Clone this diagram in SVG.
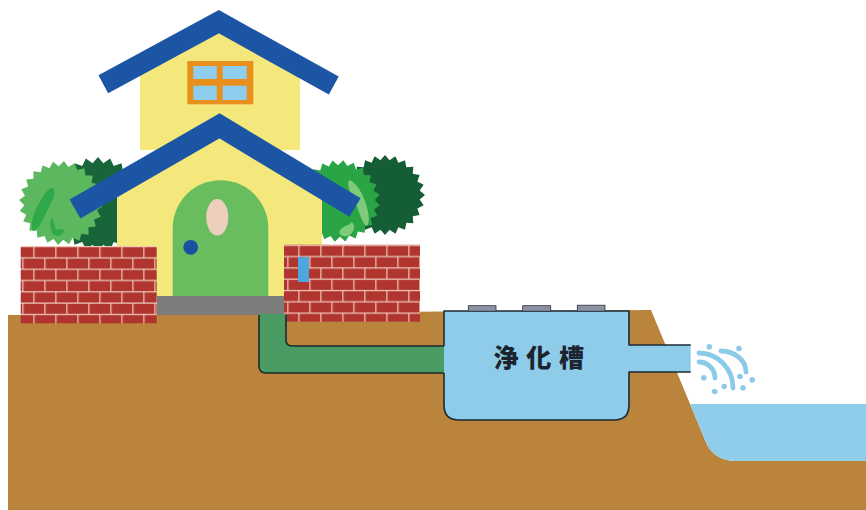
<svg xmlns="http://www.w3.org/2000/svg" xmlns:xlink="http://www.w3.org/1999/xlink" width="866" height="510" viewBox="0 0 866 510">
  <defs>
    <style>
      .roof{fill:none;stroke:#1b55a4;stroke-linejoin:miter;stroke-linecap:butt;stroke-miterlimit:10}
      .wall{fill:#f4e87c}
      .outline{fill:none;stroke:#1c2a33;stroke-width:1.6;stroke-linejoin:round}
      .spray{fill:none;stroke:#8ccaea;stroke-width:4.8;stroke-linecap:round}
      .drop{fill:#8ccaea}
      .lid{fill:#8c92a2;stroke:#2b3440;stroke-width:0.8}
      .label{font-family:"Noto Sans CJK JP","Noto Sans CJK SC",sans-serif;font-weight:900;font-size:25px;fill:#1b2530;letter-spacing:7.8px}
    </style>
    <!-- spiky shrub outline, radius 40, centred on the origin -->
    <polygon id="bush" points="40,0 34.70,4.57 38.64,10.35 32.34,13.39 34.64,20 27.77,21.31 28.28,28.28 21.31,27.77 20,34.64 13.39,32.34 10.35,38.64 4.57,34.70 0,40 -4.57,34.70 -10.35,38.64 -13.39,32.34 -20,34.64 -21.31,27.77 -28.28,28.28 -27.77,21.31 -34.64,20 -32.34,13.39 -38.64,10.35 -34.70,4.57 -40,0 -34.70,-4.57 -38.64,-10.35 -32.34,-13.39 -34.64,-20 -27.77,-21.31 -28.28,-28.28 -21.31,-27.77 -20,-34.64 -13.39,-32.34 -10.35,-38.64 -4.57,-34.70 0,-40 4.57,-34.70 10.35,-38.64 13.39,-32.34 20,-34.64 21.31,-27.77 28.28,-28.28 27.77,-21.31 34.64,-20 32.34,-13.39 38.64,-10.35 34.70,-4.57"/>
    <!-- running-bond brickwork -->
    <pattern id="brickL" patternUnits="userSpaceOnUse" x="11.3" y="246" width="22" height="22.6">
      <rect width="22" height="22.6" fill="#b0352f"/>
      <path d="M0,0.6H22M0,11.9H22M0.6,0V11.3M11.6,11.3V22.6" stroke="#efc9b8" stroke-width="1.2"/>
    </pattern>
    <pattern id="brickR" xlink:href="#brickL" x="12.3" y="244.7"/>
  </defs>

  <!-- soil and river -->
  <g id="ground">
    <path d="M8,315 L651,310 L705,440 Q712,460 735,461 L866,461 L866,510 L8,510 Z" fill="#ba843d"/>
  </g>
  <g id="river">
    <path d="M690,404 L866,404 L866,461 L735,461 Q712,460 705,440 Z" fill="#8fcdeb"/>
  </g>

  <!-- shrubs behind the house -->
  <g id="bushes-left">
    <use href="#bush" transform="translate(98,204) scale(1.175)" fill="#176538"/>
    <use href="#bush" transform="translate(61,203) scale(1.05) rotate(4)" fill="#5cb85f"/>
    <path d="M53,188 C58,192 50,205 45,215 C41,224 38,230 33,231 C30,226 33,214 38,205 C43,196 48,187 53,188 Z" fill="#2ea84a"/>
    <path d="M52,218 C55,222 54,228 57,230 C60,229 63,228 64,231 C63,235 58,237 54,235 C50,232 49,222 52,218 Z" fill="#2ea84a"/>
  </g>
  <g id="bushes-right">
    <use href="#bush" transform="translate(385,195)" fill="#155e35"/>
    <use href="#bush" transform="translate(339,201) scale(1.025) rotate(6)" fill="#2aa546"/>
    <path d="M349,180 C356,182 362,192 366,204 C369,214 370,222 367,226 C362,224 360,214 356,204 C352,195 346,187 349,180 Z" fill="#7fcb7c"/>
    <path d="M352,222 C356,226 354,234 347,236 C342,237 338,234 340,230 C343,226 348,226 352,222 Z" fill="#7fcb7c"/>
  </g>

  <!-- house -->
  <g id="house">
    <path class="wall" d="M140,150 V62 L218.8,22 L300,62 V150 Z"/>
    <rect x="187.3" y="61" width="66" height="43.3" fill="#e88f1d"/>
    <g fill="#8ecdee">
      <rect x="193.3" y="66" width="23.4" height="13"/>
      <rect x="222.7" y="66" width="24" height="13"/>
      <rect x="193.3" y="85.7" width="23.4" height="14.3"/>
      <rect x="222.7" y="85.7" width="24" height="14.3"/>
    </g>
    <polyline class="roof" stroke-width="20.4" points="103.3,84.2 218.8,21.7 333.8,85.5"/>
    <path class="wall" d="M117,297 V190 L219.5,128 L322,190 V297 Z"/>
    <polyline class="roof" stroke-width="21.7" points="75,209 219.5,125.8 355,207.5"/>
    <path d="M172.7,297 V228 A47.8,47.8 0 0 1 268.3,228 V297 Z" fill="#6abd5e"/>
    <ellipse cx="217.3" cy="217.3" rx="11" ry="18.3" fill="#ecd0bd"/>
    <circle cx="190.7" cy="247.3" r="7.4" fill="#1c4fa0"/>
    <rect x="157" y="296" width="127" height="19" fill="#7d7d7b"/>
  </g>

  <!-- garden walls -->
  <g id="wall-left">
    <rect x="20.7" y="246" width="136" height="77.3" fill="url(#brickL)"/>
  </g>
  <g id="wall-right">
    <rect x="284" y="244.7" width="136" height="77" fill="url(#brickR)"/>
    <rect x="298" y="257" width="11" height="25" fill="#4da6de"/>
  </g>

  <!-- drain pipe from the house -->
  <g id="connectors">
    <path d="M259,314 V366 Q259,373 266,373 H445 V346 H292 Q286,346 286,340 V314 Z" fill="#4b9b64"/>
    <path class="outline" d="M259,315 V366 Q259,373 266,373 H444 M444,346 H292 Q286,346 286,340 V315"/>
  </g>

  <!-- septic tank -->
  <g id="tank">
    <path d="M444,311 H629 V405 Q629,420 614,420 H459 Q444,420 444,405 Z" fill="#8fccea"/>
    <rect x="628" y="345" width="62.7" height="27" fill="#8fccea"/>
    <path class="outline" d="M444,346 V311 H629 V345 H690.7 M690.7,372 H629 V405 Q629,420 614,420 H459 Q444,420 444,405 V373"/>
    <rect class="lid" x="468.3" y="305.7" width="27.7" height="5.5"/>
    <rect class="lid" x="522.7" y="305.7" width="28" height="5.5"/>
    <rect class="lid" x="577.3" y="305.2" width="27.7" height="6"/>
    <text class="label" x="493.5" y="367">浄化槽</text>
  </g>

  <!-- discharge spray -->
  <g id="spray">
    <path class="spray" d="M699,362 A16,16 0 0 1 715,378"/>
    <path class="spray" d="M699,353 A34,35 0 0 1 733,388"/>
    <path class="spray" d="M721,351 A25,21 0 0 1 746,372"/>
    <circle class="drop" cx="709.3" cy="346.7" r="2.8"/>
    <circle class="drop" cx="739" cy="348.5" r="2.8"/>
    <circle class="drop" cx="703.8" cy="377.7" r="2.8"/>
    <circle class="drop" cx="714.7" cy="391.5" r="2.8"/>
    <circle class="drop" cx="724.2" cy="386.5" r="2.8"/>
    <circle class="drop" cx="740" cy="376.5" r="2.8"/>
    <circle class="drop" cx="743" cy="387.7" r="2.8"/>
    <circle class="drop" cx="752.2" cy="379.7" r="2.8"/>
  </g>
</svg>
